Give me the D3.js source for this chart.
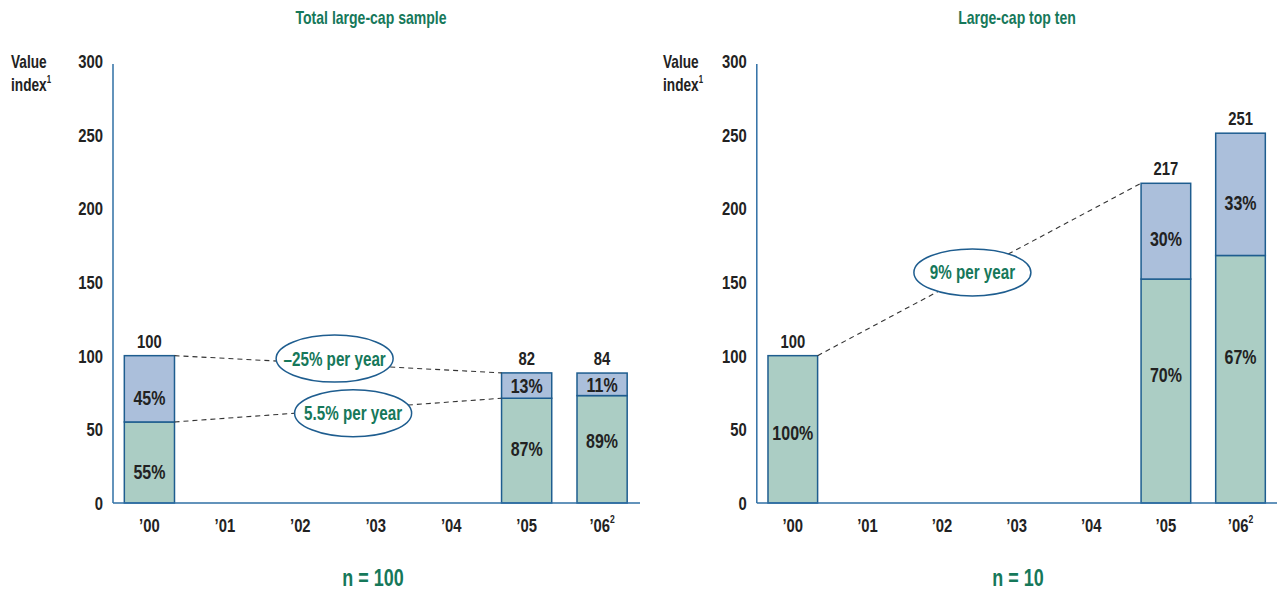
<!DOCTYPE html>
<html>
<head>
<meta charset="utf-8">
<script src="https://cdn.jsdelivr.net/npm/d3@7"></script>
<style>
  html, body { margin: 0; padding: 0; background: #fff; }
  svg text { font-family: 'Liberation Sans', Arial, sans-serif; font-weight: bold; }
</style>
</head>
<body>
<svg id="chart" width="1277" height="591"></svg>
<script>
// ---------- data ----------
const years = ["’00", "’01", "’02", "’03", "’04", "’05", "’06"];
const yearSup = ["", "", "", "", "", "", "2"];
const yTicks = [0, 50, 100, 150, 200, 250, 300];

// Total large-cap sample (n = 100)
const leftTotalLabels = [100, null, null, null, null, 82, 84];
const leftLower = [55, null, null, null, null, 71.1, 72.9];   // segment heights as drawn
const leftUpper = [45, null, null, null, null, 17.2, 15.3];
const leftLowerPct = ["55%", null, null, null, null, "87%", "89%"];
const leftUpperPct = ["45%", null, null, null, null, "13%", "11%"];

// Large-cap top ten (n = 10)
const rightTotalLabels = [100, null, null, null, null, 217, 251];
const rightLower = [100, null, null, null, null, 152, 168];
const rightUpper = [0, null, null, null, null, 65, 83];
const rightLowerPct = ["100%", null, null, null, null, "70%", "67%"];
const rightUpperPct = [null, null, null, null, null, "30%", "33%"];

const leftGrowth = ["–25% per year", "5.5% per year"];
const rightGrowth = ["9% per year"];

// ---------- styles ----------
const GREEN_FILL = "#abcdc4";
const BLUE_FILL = "#abbfdb";
const BAR_STROKE = "#1e5d8f";
const AXIS = "#2f6fa5";
const TEXT = "#222";
const GTEXT = "#16785a";
const SX = 0.78; // condensed look

const svg = d3.select("#chart");

// condensed text helper: a group at (x,y) scaled horizontally
function ctext(sel, size, fill, anchor) {
  return sel.append("text").attr("font-size", size).attr("fill", fill)
    .attr("text-anchor", anchor || "middle");
}
function cg(parent, x, y) {
  return parent.append("g").attr("transform", `translate(${x},${y}) scale(${SX},1)`);
}

function panel(opts) {
  const g = svg.append("g");
  const x = d3.scaleBand().domain(years).range(opts.xRange).paddingInner(0.335).paddingOuter(0.17);
  const y = d3.scaleLinear().domain([0, 300]).range([503, 61]);
  const axisX = opts.xRange[0] + 1.5;
  const bw = x.bandwidth();
  const idx = d3.scaleLinear().domain([0, 1]).range([x(years[0]) + bw / 2, x(years[1]) + bw / 2]);

  // title
  ctext(cg(g, opts.titleX, 24), 18, GTEXT).text(opts.title);

  // y label
  ctext(cg(g, opts.labelX, 68), 17.5, TEXT, "start").text("Value");
  const l2 = ctext(cg(g, opts.labelX, 91), 17.5, TEXT, "start");
  l2.append("tspan").text("index");
  l2.append("tspan").attr("font-size", 10).attr("dy", -8).text("1");

  // y tick labels
  g.selectAll(".yt").data(yTicks).join("g").attr("class", "yt")
    .attr("transform", d => `translate(${axisX - 10},${y(d)}) scale(${SX},1)`)
    .append("text").attr("dy", "0.36em").attr("text-anchor", "end")
    .attr("fill", TEXT).attr("font-size", 19).text(d => d);

  // x tick labels
  const xt = g.selectAll(".xt").data(years).join("g").attr("class", "xt")
    .attr("transform", d => `translate(${x(d) + bw / 2},532) scale(${SX},1)`)
    .append("text").attr("text-anchor", "middle").attr("fill", TEXT).attr("font-size", 19);
  xt.append("tspan").text(d => d);
  xt.append("tspan").attr("font-size", 11).attr("dy", -9).text((d, i) => yearSup[i]);

  // bars
  const rows = years.map((yr, i) => ({ yr, lo: opts.lower[i], up: opts.upper[i], loP: opts.lowerPct[i], upP: opts.upperPct[i], tot: opts.totals[i], i }))
    .filter(d => d.lo != null);

  g.selectAll(".lo").data(rows).join("rect").attr("class", "lo")
    .attr("x", d => x(d.yr)).attr("width", bw)
    .attr("y", d => y(d.lo)).attr("height", d => y(0) - y(d.lo))
    .attr("fill", GREEN_FILL).attr("stroke", BAR_STROKE).attr("stroke-width", 1.5);
  g.selectAll(".up").data(rows.filter(d => d.up > 0)).join("rect").attr("class", "up")
    .attr("x", d => x(d.yr)).attr("width", bw)
    .attr("y", d => y(d.lo + d.up)).attr("height", d => y(d.lo) - y(d.lo + d.up))
    .attr("fill", BLUE_FILL).attr("stroke", BAR_STROKE).attr("stroke-width", 1.5);

  // totals
  g.selectAll(".tot").data(rows).join("g").attr("class", "tot")
    .attr("transform", d => `translate(${x(d.yr) + bw / 2},${y(d.lo + (d.up || 0)) - 8}) scale(${SX},1)`)
    .append("text").attr("text-anchor", "middle").attr("fill", TEXT).attr("font-size", 19).text(d => d.tot);

  // percent labels
  g.selectAll(".lp").data(rows.filter(d => d.loP)).join("g").attr("class", "lp")
    .attr("transform", d => `translate(${x(d.yr) + bw / 2},${(y(0) + y(d.lo)) / 2 + opts.loOff[d.i]}) scale(${SX},1)`)
    .append("text").attr("dy", "0.36em").attr("text-anchor", "middle").attr("fill", TEXT)
    .attr("font-size", 20.5).text(d => d.loP);
  g.selectAll(".upp").data(rows.filter(d => d.upP)).join("g").attr("class", "upp")
    .attr("transform", d => `translate(${x(d.yr) + bw / 2},${(y(d.lo) + y(d.lo + d.up)) / 2 + opts.upOff[d.i]}) scale(${SX},1)`)
    .append("text").attr("dy", "0.36em").attr("text-anchor", "middle").attr("fill", TEXT)
    .attr("font-size", 20.5).text(d => d.upP);

  // axes lines
  g.append("line").attr("x1", axisX).attr("x2", axisX).attr("y1", y(300) + 3).attr("y2", y(0))
    .attr("stroke", AXIS).attr("stroke-width", 1.5);
  g.append("line").attr("x1", axisX).attr("x2", opts.xRange[1]).attr("y1", y(0)).attr("y2", y(0))
    .attr("stroke", AXIS).attr("stroke-width", 1.5);

  // growth annotations
  opts.growth.forEach(an => {
    const a = rows.find(r => r.i === an.from), b = rows.find(r => r.i === an.to);
    const va = an.level === "top" ? a.lo + (a.up || 0) : a.lo;
    const vb = an.level === "top" ? b.lo + (b.up || 0) : b.lo;
    g.append("line")
      .attr("x1", x(a.yr) + bw).attr("y1", y(va))
      .attr("x2", x(b.yr)).attr("y2", y(vb))
      .attr("stroke", "#333").attr("stroke-width", 1.1).attr("stroke-dasharray", "5,4");
    const cx = idx(an.at[0]), cy = y(an.at[1]);
    g.append("ellipse").attr("cx", cx).attr("cy", cy).attr("rx", 58.5).attr("ry", 23.5)
      .attr("fill", "#fff").attr("stroke", BAR_STROKE).attr("stroke-width", 1.5);
    ctext(cg(g, cx, cy), 19.5, GTEXT).attr("dy", "0.36em").text(an.text);
  });

  // n label
  ctext(cg(g, opts.nX, 586), 23, GTEXT).text(opts.n);
}

panel({
  xRange: [111.5, 640], title: "Total large-cap sample", titleX: 371, labelX: 11, nX: 373, n: "n = 100",
  totals: leftTotalLabels, lower: leftLower, upper: leftUpper, lowerPct: leftLowerPct, upperPct: leftUpperPct,
  loOff: [9, 0, 0, 0, 0, -2.5, -8.5], upOff: [8.5, 0, 0, 0, 0, 0.5, 0],
  growth: [
    { from: 0, to: 5, level: "top", text: leftGrowth[0], at: [2.455, 98] },
    { from: 0, to: 5, level: "mid", text: leftGrowth[1], at: [2.70, 61] }
  ]
});

panel({
  xRange: [755.3, 1278], title: "Large-cap top ten", titleX: 1017, labelX: 663, nX: 1018, n: "n = 10",
  totals: rightTotalLabels, lower: rightLower, upper: rightUpper, lowerPct: rightLowerPct, upperPct: rightUpperPct,
  loOff: [3, 0, 0, 0, 0, -16, -23], upOff: [0, 0, 0, 0, 0, 7.5, 8],
  growth: [
    { from: 0, to: 5, level: "top", text: rightGrowth[0], at: [2.407, 156.5] }
  ]
});
</script>
</body>
</html>
